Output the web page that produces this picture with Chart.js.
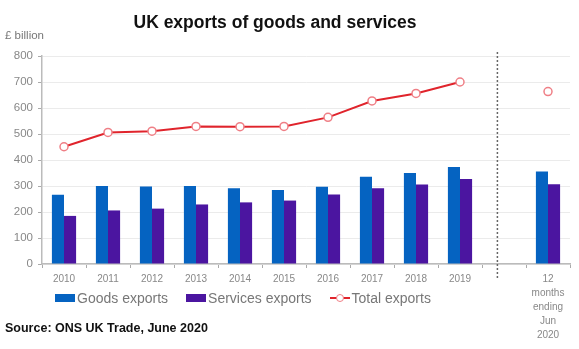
<!DOCTYPE html>
<html>
<head>
<meta charset="utf-8">
<script src="https://cdn.jsdelivr.net/npm/chart.js@4"></script>
<style>
  body { margin: 0; background: #fff; font-family: 'Liberation Sans', Arial, sans-serif; }
  #wrap { position: relative; width: 579px; height: 349px; }
  #title { position: absolute; left: 0; width: 550px; top: 12px; text-align: center; font-size: 17.5px; font-weight: bold; color: #111; }
  #unit { position: absolute; left: 5px; top: 29px; font-size: 11.5px; color: #777; }
  #source { position: absolute; left: 5px; top: 321px; font-size: 12.5px; font-weight: bold; color: #111; }
  #legend { position: absolute; left: 55px; top: 290px; display: flex; align-items: center; font-size: 14px; color: #777; }
  .item { display: flex; align-items: center; margin-right: 18px; }
  .box { width: 20px; height: 8px; margin-right: 2px; }
  .mark { position: relative; width: 20px; height: 10px; margin-right: 2px; }
  .mark .ln { position: absolute; left: 0; right: 0; top: 4px; height: 2px; background: #e0242c; }
  .mark .pt { position: absolute; left: 6px; top: 1px; width: 6px; height: 6px; border: 1.5px solid #ef7f86; border-radius: 50%; background: #fff; }
</style>
</head>
<body>
<div id="wrap">
  <canvas id="chart" width="579" height="349"></canvas>
  <div id="title">UK exports of goods and services</div>
  <div id="unit">£ billion</div>
  <div id="legend">
    <div class="item"><div class="box" style="background:#0563c1"></div>Goods exports</div>
    <div class="item"><div class="box" style="background:#4b15a0"></div>Services exports</div>
    <div class="item"><div class="mark"><div class="ln"></div><div class="pt"></div></div>Total exports</div>
  </div>
  <div id="source">Source: ONS UK Trade, June 2020</div>
</div>
<script>
const categories = ['2010', '2011', '2012', '2013', '2014', '2015', '2016', '2017', '2018', '2019', '',
  ['12', 'months', 'ending', 'Jun', '2020']];
const goodsExports = [266, 300, 298, 300, 291, 285, 297, 336, 350, 373, null, 356];
const servicesExports = [185, 206, 213, 229, 237, 244, 267, 291, 306, 327, null, 307];
const totalExports = [451, 506, 511, 529, 528, 529, 564, 627, 656, 700, null, 663];
const yTicks = [0, 100, 200, 300, 400, 500, 600, 700, 800];

// dotted separator in the empty slot before the latest 12-month figure
const separator = {
  id: 'separator',
  afterDatasetsDraw(chart) {
    const x = chart.scales.x;
    const area = chart.chartArea;
    const px = x.getPixelForValue(10) - 0.15 * (x.getPixelForValue(1) - x.getPixelForValue(0));
    const ctx = chart.ctx;
    ctx.save();
    ctx.strokeStyle = '#666';
    ctx.lineWidth = 1.5;
    ctx.setLineDash([2, 2]);
    ctx.beginPath();
    ctx.moveTo(px, area.top - 4);
    ctx.lineTo(px, area.bottom + 16);
    ctx.stroke();
    ctx.restore();
  }
};

new Chart(document.getElementById('chart'), {
  data: {
    labels: categories,
    datasets: [
      {
        type: 'line',
        label: 'Total exports',
        data: totalExports,
        borderColor: '#e0242c',
        borderWidth: 2,
        pointRadius: 4,
        pointBackgroundColor: '#fff',
        pointBorderColor: '#ef7f86',
        pointBorderWidth: 1.5,
        spanGaps: false,
        order: 0
      },
      {
        type: 'bar',
        label: 'Goods exports',
        data: goodsExports,
        backgroundColor: '#0563c1',
        categoryPercentage: 0.55,
        barPercentage: 1.0,
        order: 1
      },
      {
        type: 'bar',
        label: 'Services exports',
        data: servicesExports,
        backgroundColor: '#4b15a0',
        categoryPercentage: 0.55,
        barPercentage: 1.0,
        order: 1
      }
    ]
  },
  options: {
    responsive: false,
    animation: false,
    layout: { padding: { top: 56, right: 9, bottom: 0, left: 0 } },
    plugins: {
      legend: { display: false },
      tooltip: { enabled: false }
    },
    scales: {
      x: {
        offset: true,
        afterFit(scale) { scale.height = 85; },
        grid: { offset: true, drawOnChartArea: false, drawTicks: true, tickLength: 4, color: '#aaa' },
        border: { color: '#bbb', width: 1.5 },
        ticks: { color: '#888', font: { family: 'Liberation Sans', size: 10, lineHeight: 1.4 }, padding: 4, maxRotation: 0, autoSkip: false }
      },
      y: {
        min: 0,
        max: 800,
        afterFit(scale) { scale.width = 42; },
        afterBuildTicks(scale) { scale.ticks = yTicks.map(v => ({ value: v })); },
        grid: { color: '#ebebeb', tickLength: 4, tickColor: '#aaa' },
        border: { color: '#bbb', width: 1.5 },
        ticks: { color: '#888', font: { family: 'Liberation Sans', size: 11.5 }, padding: 5 }
      }
    }
  },
  plugins: [separator]
});
</script>
</body>
</html>
